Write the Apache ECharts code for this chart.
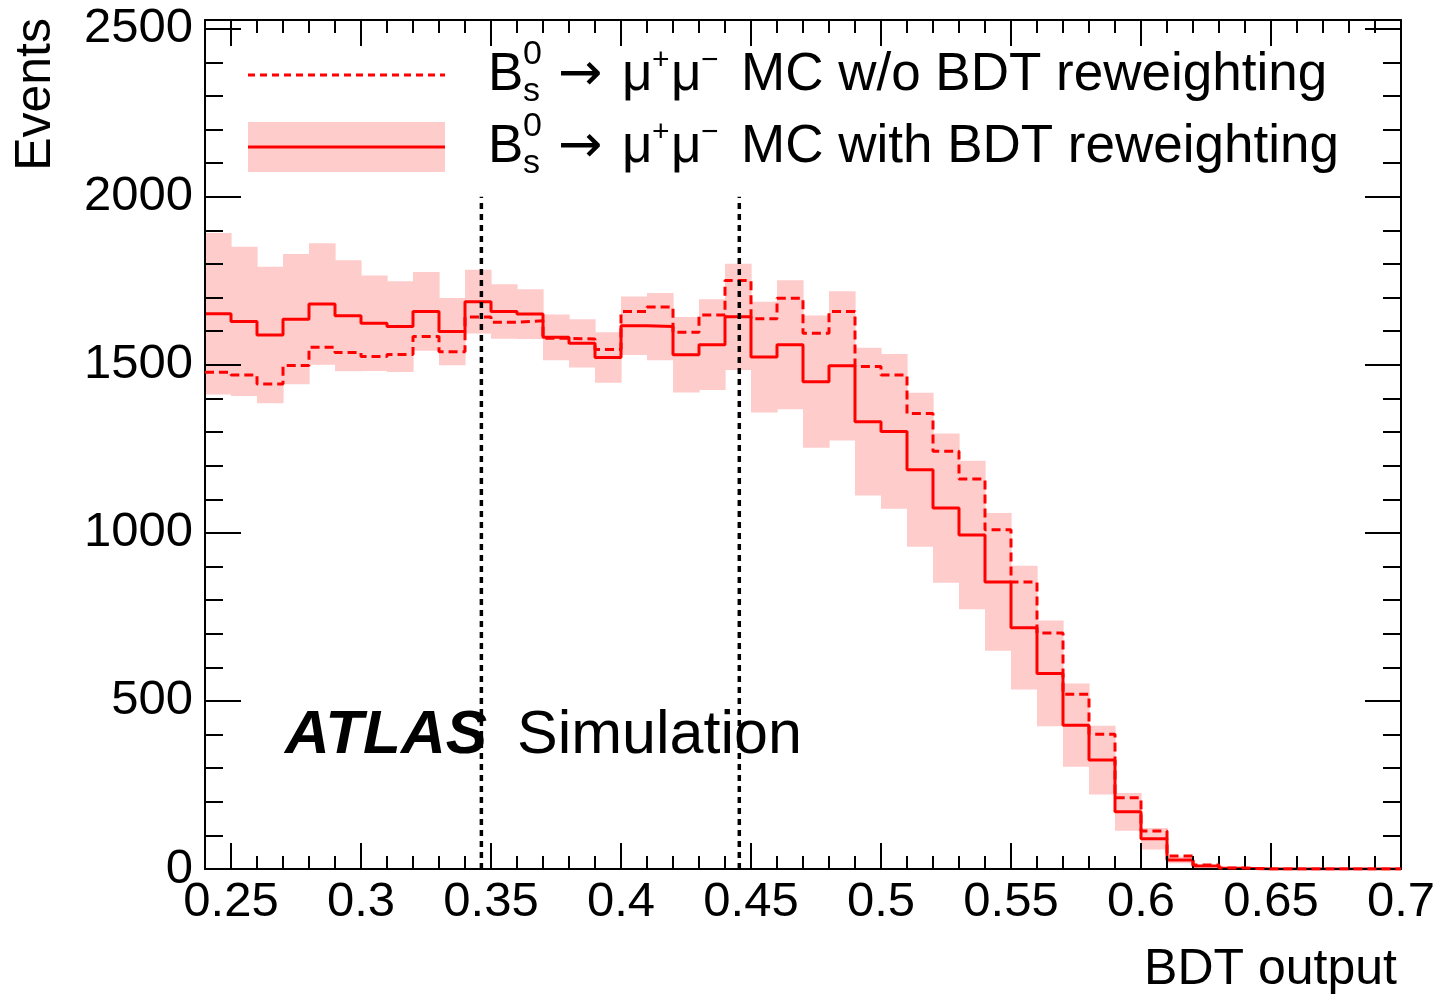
<!DOCTYPE html>
<html>
<head>
<meta charset="utf-8">
<script src="https://cdn.jsdelivr.net/npm/echarts@6/dist/echarts.min.js"></script>
<style>html,body{margin:0;padding:0;background:#fff}#c{width:1439px;height:1001px}</style>
</head>
<body>
<div id="c"></div>
<script>
// ---- data ----
const binLow = [0.24,0.25,0.26,0.27,0.28,0.29,0.30,0.31,0.32,0.33,
                0.34,0.35,0.36,0.37,0.38,0.39,0.40,0.41,0.42,0.43,
                0.44,0.45,0.46,0.47,0.48,0.49,0.50,0.51,0.52,0.53,
                0.54,0.55,0.56,0.57,0.58,0.59,0.60,0.61,0.62,0.63,
                0.64,0.65,0.66,0.67,0.68,0.69];
const binWidth = 0.01;
const withRew = [1652,1629,1589,1636,1681,1646,1624,1614,1659,1599,
                 1688,1659,1651,1582,1564,1522,1616,1614,1530,1560,
                 1643,1523,1560,1450,1497,1331,1302,1188,1074,994,
                 854,718,582,428,324,170,90,27,9,2,
                 0,0,0,0,0,0];
const withRewErr = [240,222,203,194,181,165,142,135,117,100,
                    95,81,74,68,72,75,87,100,112,135,
                    158,165,192,197,222,220,230,229,222,221,
                    205,184,157,124,102,56,32,10,3,1,
                    0,0,0,0,0,0];
const withoutRew = [1478,1470,1443,1498,1552,1537,1525,1531,1584,1539,
                    1642,1627,1631,1579,1577,1546,1659,1672,1597,1648,
                    1751,1637,1698,1594,1659,1495,1470,1355,1243,1160,
                    1009,854,702,520,401,212,113,39,12,3,
                    0,0,0,0,0,0];
const xMajorTicks = [0.25,0.30,0.35,0.40,0.45,0.50,0.55,0.60,0.65,0.70];
const yMajorTicks = [0,500,1000,1500,2000,2500];
const cutLines = [0.3463, 0.4455];
const cutLineTop = 2000;
const xRange = [0.24, 0.70];
const yRange = [0, 2526];

// ---- build ----
const FONT = "'Liberation Sans', Arial, Helvetica, sans-serif";
function stepData(vals) {
  const d = binLow.map((x, i) => [x, vals[i]]);
  d.push([binLow[binLow.length - 1] + binWidth, vals[vals.length - 1]]);
  return d;
}
const bandData = binLow.map((x, i) => [x, x + binWidth, withRew[i] - withRewErr[i], withRew[i] + withRewErr[i]]);

function xAx(pos, major) {
  const a = {
    type: 'value', min: xRange[0], max: xRange[1], position: pos, z: 3,
    splitLine: { show: false },
    axisLine: { show: major, onZero: false, lineStyle: { color: '#000', width: 2 } },
    axisTick: { show: true, inside: true, length: major ? 26 : 13, lineStyle: { color: '#000', width: 2 } },
    axisLabel: { show: false }
  };
  if (major) {
    a.axisTick.customValues = xMajorTicks;
    if (pos === 'bottom') {
      a.axisLabel = {
        show: true, customValues: xMajorTicks, margin: 9, fontSize: 49, fontFamily: FONT, color: '#000',
        formatter: v => String(+(+v).toFixed(2))
      };
    }
  } else {
    a.interval = binWidth;
  }
  return a;
}
function yAx(pos, major) {
  const a = {
    type: 'value', min: yRange[0], max: yRange[1], position: pos, z: 3,
    splitLine: { show: false },
    axisLine: { show: major, onZero: false, lineStyle: { color: '#000', width: 2 } },
    axisTick: { show: true, inside: true, length: major ? 36 : 18, lineStyle: { color: '#000', width: 2 } },
    axisLabel: { show: false }
  };
  if (major) {
    a.axisTick.customValues = yMajorTicks;
    if (pos === 'left') {
      a.axisLabel = { show: true, customValues: yMajorTicks, margin: 12, fontSize: 49, fontFamily: FONT, color: '#000',
                      formatter: v => String(Math.round(v)) };
    }
  } else {
    a.interval = 100;
  }
  return a;
}

const series = [
  {
    type: 'custom', name: 'band', xAxisIndex: 0, yAxisIndex: 0, z: 1, silent: true,
    data: bandData, encode: { x: [0, 1], y: [2, 3] },
    renderItem: function (params, api) {
      const p0 = api.coord([api.value(0), api.value(3)]);
      const p1 = api.coord([api.value(1), api.value(2)]);
      return { type: 'rect', shape: { x: p0[0], y: p0[1], width: p1[0] - p0[0] + 0.6, height: p1[1] - p0[1] },
               style: { fill: '#ffcccc' } };
    }
  },
  {
    type: 'line', name: 'with', xAxisIndex: 0, yAxisIndex: 0, z: 2, step: 'end', symbol: 'none',
    data: stepData(withRew), lineStyle: { color: '#ff0000', width: 3 }
  },
  {
    type: 'line', name: 'without', xAxisIndex: 0, yAxisIndex: 0, z: 4, step: 'end', symbol: 'none',
    data: stepData(withoutRew), lineStyle: { color: '#ff0000', width: 3, type: [9, 5] }
  }
];
cutLines.forEach(x => series.push({
  type: 'line', xAxisIndex: 0, yAxisIndex: 0, z: 5, symbol: 'none', silent: true,
  data: [[x, 0], [x, cutLineTop]], lineStyle: { color: '#000', width: 3.5, type: [6, 5] }
}));

function txt(x, y, text, size, extra) {
  return Object.assign({ type: 'text', x: x, y: y, z: 10,
    style: Object.assign({ text: text, font: size + 'px ' + FONT, fill: '#000', align: 'left', verticalAlign: 'middle' }, extra || {}) });
}
function legendLabel(y, rest) {
  return [
    txt(488, y, 'B', 53),
    txt(523, y - 20, '0', 34),
    txt(523, y + 17, 's', 34),
    txt(558, y + 1, '\u2192', 53, { font: "53px 'DejaVu Sans', sans-serif" }),
    txt(622, y, '\u03bc', 53),
    txt(652, y - 14, '+', 30),
    txt(671, y, '\u03bc', 53),
    txt(701, y - 14, '\u2212', 30),
    txt(741, y, rest, 53)
  ];
}

const graphic = [
  { type: 'line', z: 10, shape: { x1: 248, y1: 75, x2: 445, y2: 75 }, style: { stroke: '#ff0000', lineWidth: 3, lineDash: [7, 5] } },
  { type: 'rect', z: 9, shape: { x: 248, y: 122, width: 197, height: 50 }, style: { fill: '#ffcccc' } },
  { type: 'line', z: 10, shape: { x1: 248, y1: 147, x2: 445, y2: 147 }, style: { stroke: '#ff0000', lineWidth: 3 } }
].concat(legendLabel(75, 'MC w/o BDT reweighting'))
 .concat(legendLabel(147, 'MC with BDT reweighting'))
 .concat([
   txt(285, 736, 'ATLAS', 62, { font: 'italic bold 62px ' + FONT }),
   txt(517, 736, 'Simulation', 61),
   txt(1397, 970, 'BDT output', 50, { align: 'right' }),
   Object.assign(txt(36, 18, 'Events', 50, { align: 'right' }), { rotation: Math.PI / 2 })
 ]);

const chart = echarts.init(document.getElementById('c'), null, { renderer: 'canvas' });
chart.setOption({
  animation: false,
  backgroundColor: '#fff',
  grid: { left: 205, top: 20, width: 1196, height: 849, containLabel: false },
  xAxis: [xAx('bottom', true), xAx('bottom', false), xAx('top', true), xAx('top', false)],
  yAxis: [yAx('left', true), yAx('left', false), yAx('right', true), yAx('right', false)],
  series: series,
  graphic: graphic
});
</script>
</body>
</html>
